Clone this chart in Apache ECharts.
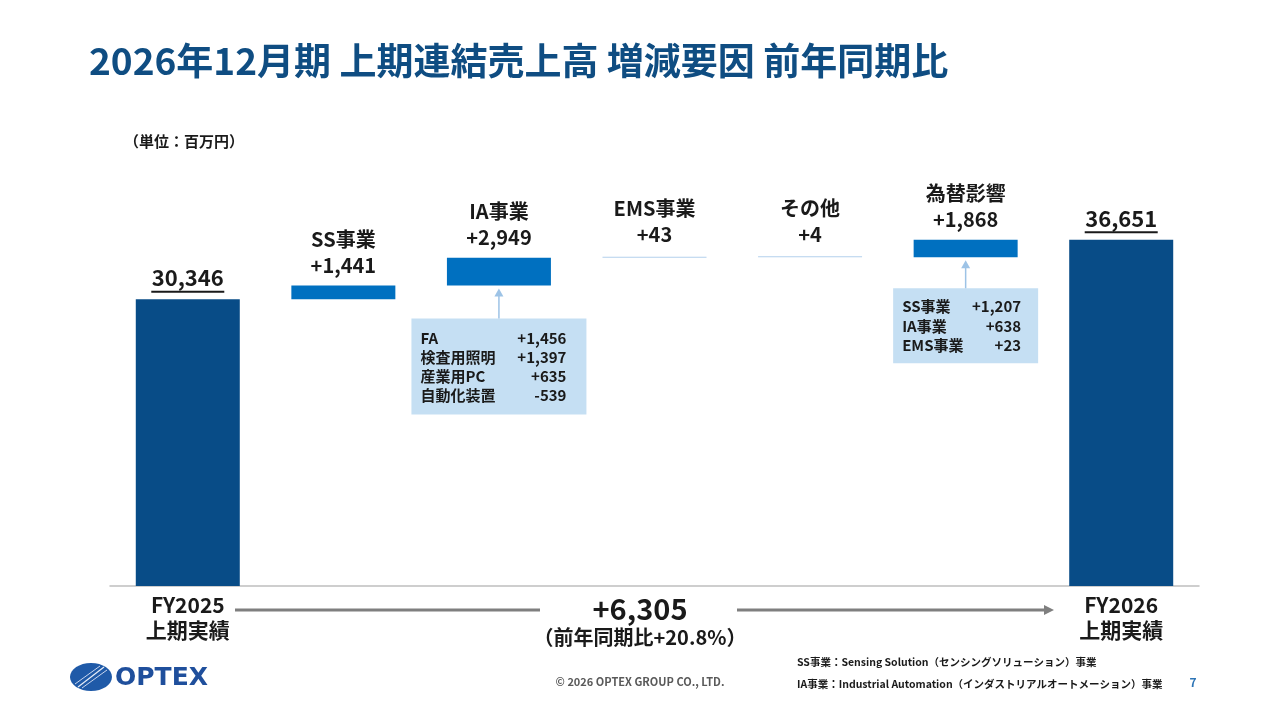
<!DOCTYPE html>
<html><head><meta charset="utf-8">
<script src="https://cdn.jsdelivr.net/npm/echarts@6/dist/echarts.min.js"></script>
<style>html,body{margin:0;padding:0;background:#fff}#c{width:1280px;height:720px}</style>
</head><body><div id="c"></div>
<script>
const categories = ['FY2025\n上期実績','SS事業','IA事業','EMS事業','その他','為替影響','FY2026\n上期実績'];
const kinds = ['total','delta','delta','delta','delta','delta','total'];
const values = [30346, 1441, 2949, 43, 4, 1868, 36651];
const iaDetailNames = ['FA','検査用照明','産業用PC','自動化装置'];
const iaDetailValues = [1456, 1397, 635, -539];
const fxDetailNames = ['SS事業','IA事業','EMS事業'];
const fxDetailValues = [1207, 638, 23];
const titleText = '2026年12月期 上期連結売上高 増減要因 前年同期比';
const unitText = '（単位：百万円）';
const noteLines = ['SS事業：Sensing Solution（センシングソリューション）事業','IA事業：Industrial Automation（インダストリアルオートメーション）事業'];
const copyright = '© 2026 OPTEX GROUP CO., LTD.';
const pageNo = '7';

const FONT = "'Noto Sans CJK JP','Noto Sans',sans-serif";
const fmt = n => Math.abs(n).toLocaleString('en-US');
const signed = n => (n >= 0 ? '+' : '-') + fmt(n);

// waterfall base
const base = [];
let running = 0;
values.forEach((v, i) => {
  if (kinds[i] === 'total') { base.push(0); running = v; }
  else { base.push(running); running += v; }
});

const TOTAL_C = '#084c87', DELTA_C = '#0070c0', THIN_C = '#b3d0ec';
const barData = values.map((v, i) => {
  const isTotal = kinds[i] === 'total';
  const thin = !isTotal && v < 200;
  return {
    value: v,
    itemStyle: { color: isTotal ? TOTAL_C : (thin ? THIN_C : DELTA_C) },
    label: isTotal ? {
      formatter: '{v|' + fmt(v) + '}\n{u|}',
      distance: 6,
      rich: {
        v: { fontSize: 22, fontWeight: 'bold', color: '#1a1a1a', fontFamily: FONT, lineHeight: 25 },
        u: { width: 73, height: 2, backgroundColor: '#1a1a1a', lineHeight: 3 }
      }
    } : {
      formatter: categories[i] + '\n' + signed(v),
      distance: thin ? 9 : 7,
      fontSize: 20, fontWeight: 'bold', color: '#1a1a1a', fontFamily: FONT, lineHeight: 26
    }
  };
});

const chart = echarts.init(document.getElementById('c'));
chart.setOption({
  backgroundColor: '#fff',
  animation: false,
  title: {
    text: titleText, left: 84, top: 37,
    textStyle: { fontSize: 37, fontWeight: 'bold', color: '#0f4d82', fontFamily: FONT }
  },
  grid: { left: 110, right: 81, top: 208, bottom: 134 },
  xAxis: {
    type: 'category', data: categories,
    axisLine: { lineStyle: { color: '#bfbfbf', width: 1.5 } },
    axisTick: { show: false },
    axisLabel: {
      interval: 0, margin: 7,
      formatter: (val, i) => kinds[i] === 'total' ? val : '',
      fontSize: 21, fontWeight: 'bold', color: '#1a1a1a', fontFamily: FONT, lineHeight: 25
    }
  },
  yAxis: { type: 'value', min: 0, max: 40000, show: false, splitLine: { show: false } },
  series: [
    { type: 'bar', stack: 'w', data: base, barWidth: 104, itemStyle: { color: 'transparent' }, silent: true },
    { type: 'bar', stack: 'w', data: barData, barWidth: 104, barMinHeight: 1,
      label: { show: true, position: 'top' } }
  ]
});

const px = (i, v) => chart.convertToPixel({ xAxisIndex: 0, yAxisIndex: 0 }, [i, v]);
const graphics = [];
const ARROW_C = '#9dc3e6', BOX_C = '#c5dff3';

function callout(idx, boxW, boxH, gap, rowStart, rowStep, rightPad, names, vals) {
  const [cx, by] = px(idx, base[idx]);
  const left = cx - boxW / 2, top = by + gap;
  graphics.push({ type: 'rect', shape: { x: left, y: top, width: boxW, height: boxH }, style: { fill: BOX_C } });
  graphics.push({ type: 'line', shape: { x1: cx, y1: top, x2: cx, y2: by + 9 }, style: { stroke: ARROW_C, lineWidth: 1.5 } });
  graphics.push({ type: 'polygon', shape: { points: [[cx - 4.5, by + 11], [cx + 4.5, by + 11], [cx, by + 3]] }, style: { fill: ARROW_C } });
  names.forEach((n, k) => {
    const y = top + rowStart + k * rowStep;
    graphics.push({ type: 'text', x: left + 9, y: y, style: { text: n, font: 'bold 15px ' + FONT, fill: '#1a1a1a', textVerticalAlign: 'middle', verticalAlign: 'middle' } });
    graphics.push({ type: 'text', x: left + boxW - rightPad, y: y, style: { text: signed(vals[k]), font: 'bold 15px ' + FONT, fill: '#1a1a1a', textAlign: 'right', align: 'right', verticalAlign: 'middle', textVerticalAlign: 'middle' } });
  });
}
callout(2, 175, 96, 33, 20, 19, 20, iaDetailNames, iaDetailValues);
callout(5, 145, 75, 31, 18, 19.5, 17, fxDetailNames, fxDetailValues);

// total change
const first = values[0], last = values[values.length - 1];
const diff = last - first;
const pct = (diff / first * 100).toFixed(1);
const midX = chart.getWidth() / 2;
graphics.push({ type: 'text', x: midX, y: 609, style: { text: signed(diff), font: 'bold 29px ' + FONT, fill: '#1a1a1a', align: 'center', verticalAlign: 'middle' } });
graphics.push({ type: 'text', x: midX, y: 637, style: { text: '（前年同期比' + (diff >= 0 ? '+' : '') + pct + '%）', font: 'bold 20px ' + FONT, fill: '#1a1a1a', align: 'center', verticalAlign: 'middle' } });
graphics.push({ type: 'line', shape: { x1: 235, y1: 610, x2: 540, y2: 610 }, style: { stroke: '#7f7f7f', lineWidth: 3 } });
graphics.push({ type: 'line', shape: { x1: 737, y1: 610, x2: 1046, y2: 610 }, style: { stroke: '#7f7f7f', lineWidth: 3 } });
graphics.push({ type: 'polygon', shape: { points: [[1044, 605], [1044, 615], [1054, 610]] }, style: { fill: '#7f7f7f' } });

// unit
graphics.push({ type: 'text', x: 124, y: 141, style: { text: unitText, font: 'bold 15px ' + FONT, fill: '#1a1a1a', verticalAlign: 'middle' } });

// footer
graphics.push({ type: 'text', x: 640, y: 682, style: { text: copyright, font: 'bold 11px ' + FONT, fill: '#595959', align: 'center', verticalAlign: 'middle' } });
graphics.push({ type: 'text', x: 797, y: 662, style: { text: noteLines[0], font: 'bold 10.5px ' + FONT, fill: '#1a1a1a', verticalAlign: 'middle' } });
graphics.push({ type: 'text', x: 797, y: 684, style: { text: noteLines[1], font: 'bold 10.5px ' + FONT, fill: '#1a1a1a', verticalAlign: 'middle' } });
graphics.push({ type: 'text', x: 1193, y: 682, style: { text: pageNo, font: 'bold 12px ' + FONT, fill: '#2e75b6', align: 'center', verticalAlign: 'middle' } });

// logo
graphics.push({ type: 'ellipse', shape: { cx: 91, cy: 677, rx: 21, ry: 14 }, style: { fill: '#1f5aa8' } });
graphics.push({ type: 'line', shape: { x1: 78, y1: 687, x2: 104, y2: 667 }, style: { stroke: '#e8eef8', lineWidth: 1.2 } });
graphics.push({ type: 'line', shape: { x1: 82, y1: 688, x2: 107, y2: 670 }, style: { stroke: '#c9d6ee', lineWidth: 1 } });
graphics.push({ type: 'line', shape: { x1: 75, y1: 684, x2: 100, y2: 666 }, style: { stroke: '#c9d6ee', lineWidth: 1 } });
graphics.push({ type: 'text', x: 115, y: 678, style: { text: 'OPTEX', font: 'bold 25px "DejaVu Sans"', fill: '#1f4f9c', verticalAlign: 'middle' } });

chart.setOption({ graphic: graphics });
</script></body></html>
